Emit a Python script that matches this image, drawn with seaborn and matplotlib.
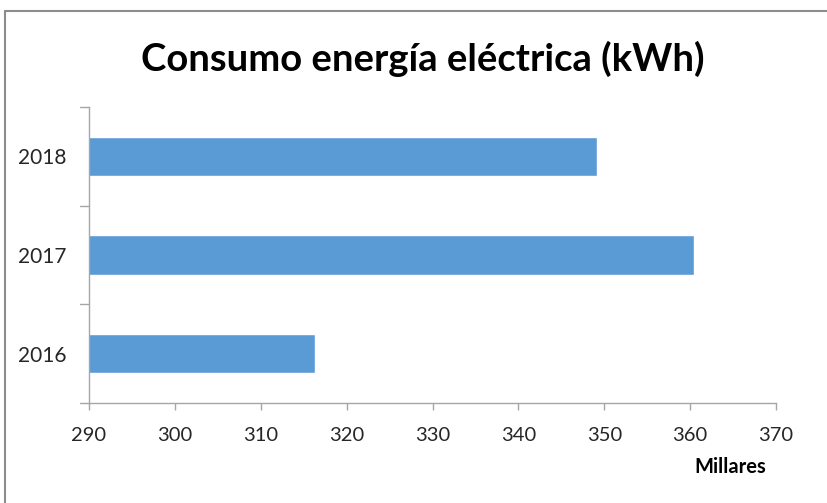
import matplotlib

matplotlib.use("Agg")
import matplotlib.pyplot as plt
from matplotlib.lines import Line2D
import pandas as pd
import seaborn as sns

# datos (miles de kWh)
years = ["2018", "2017", "2016"]
consumo = [349.2, 360.45, 316.35]
x_ticks = [290, 300, 310, 320, 330, 340, 350, 360, 370]

sns.set_theme(style="white")
plt.rcParams["font.family"] = ["Lato", "DejaVu Sans"]

df = pd.DataFrame({"year": years, "consumo": consumo})

fig = plt.figure(figsize=(8.28, 5.03), dpi=100)
ax = fig.add_axes([0.1075, 0.1988, 0.8297, 0.5885])

sns.barplot(data=df, x="consumo", y="year", color="#5B9BD5", saturation=1,
            width=0.4, ax=ax)

ax.set_xlim(290, 370)
ax.set_ylim(2.5, -0.5)
ax.set_xticks(x_ticks)
ax.set_xticklabels([str(t) for t in x_ticks], fontsize=14.5, color="#262626")
ax.tick_params(axis="y", labelsize=15, labelcolor="#262626", length=0, pad=16)
ax.tick_params(axis="x", length=5, width=1, color="#A6A6A6", pad=12, bottom=True)
ax.set_xlabel("")
ax.set_ylabel("")

# marcas del eje y en los límites de las categorías, como en Excel
for yb in [-0.5, 0.5, 1.5, 2.5]:
    ax.plot([-0.013, 0], [yb, yb], transform=ax.get_yaxis_transform(),
            color="#A6A6A6", lw=1, clip_on=False)

for side in ["top", "right"]:
    ax.spines[side].set_visible(False)
for side in ["left", "bottom"]:
    ax.spines[side].set_color("#A6A6A6")
    ax.spines[side].set_linewidth(1)

fig.text(0.511, 0.882, "Consumo energía eléctrica (kWh)", ha="center", va="center",
         fontsize=27.5, fontweight="bold", color="black")
fig.text(0.882, 0.0716, "Millares", ha="center", va="center",
         fontsize=14.5, fontweight="bold", color="black")

# marco del área del gráfico
fig.add_artist(Line2D([0.0065, 1.0], [0.979, 0.979], color="#8C8C8C", lw=1.5))
fig.add_artist(Line2D([0.0065, 0.0065], [0.0, 0.979], color="#8C8C8C", lw=1.5))

fig.savefig("out.png", dpi=100)
